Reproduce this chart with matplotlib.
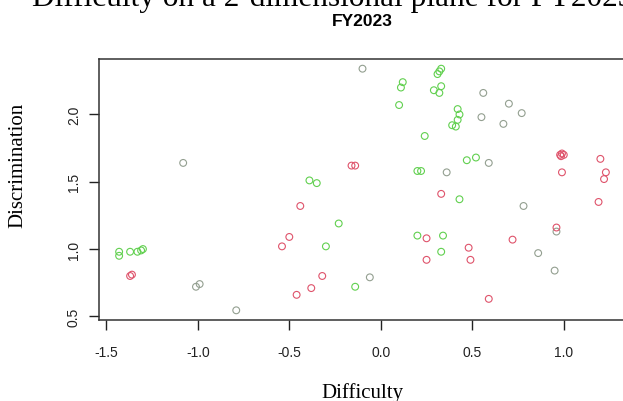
import matplotlib.pyplot as plt

# Datos (Difficulty, Discrimination) por grupo de color
red_x = [-0.16, -0.14, 0.33, -0.44, -0.50, -0.54, -0.32, -0.38, -0.46, -1.37, -1.36,
         0.25, 0.25, 0.48, 0.49, 1.19, 0.96, 0.72, 0.59, 0.98, 0.99, 0.985, 1.00,
         0.99, 1.20, 1.23, 1.22]
red_y = [1.62, 1.62, 1.41, 1.32, 1.09, 1.02, 0.80, 0.71, 0.66, 0.80, 0.81,
         1.08, 0.92, 1.01, 0.92, 1.35, 1.16, 1.07, 0.63, 1.70, 1.71, 1.69, 1.70,
         1.57, 1.67, 1.57, 1.52]

green_x = [0.12, 0.11, 0.10, 0.33, 0.32, 0.31, 0.29, 0.32, 0.33, 0.24, 0.20, 0.22,
           -0.39, -0.35, 0.42, 0.43, 0.42, 0.39, 0.41, 0.47, 0.52, -1.43, -1.43,
           -1.37, -1.33, -1.31, -1.30, -0.23, -0.30, -0.14, 0.20, 0.34, 0.33, 0.43]
green_y = [2.24, 2.20, 2.07, 2.34, 2.32, 2.30, 2.18, 2.16, 2.21, 1.84, 1.58, 1.58,
           1.51, 1.49, 2.04, 2.00, 1.96, 1.92, 1.91, 1.66, 1.68, 0.98, 0.95,
           0.98, 0.98, 0.99, 1.00, 1.19, 1.02, 0.72, 1.10, 1.10, 0.98, 1.37]

gray_x = [-0.10, 0.36, 0.56, 0.70, 0.77, 0.55, 0.67, 0.59, -1.01, -0.99, -0.79,
          -0.06, 0.78, 0.96, 0.86, 0.95, -1.08]
gray_y = [2.34, 1.57, 2.16, 2.08, 2.01, 1.98, 1.93, 1.64, 0.72, 0.74, 0.545,
          0.79, 1.32, 1.13, 0.97, 0.84, 1.64]

x_ticks = [-1.5, -1.0, -0.5, 0.0, 0.5, 1.0]
y_ticks = [0.5, 1.0, 1.5, 2.0]

plt.rcParams['font.family'] = 'Liberation Sans'

fig = plt.figure(figsize=(6.23, 4.02), dpi=100)
# El recuadro se sale un poco por la derecha, como en la captura original
ax = fig.add_axes([99 / 623, 81 / 402, 527 / 623, 261 / 402])

ax.scatter(gray_x, gray_y, s=24, facecolors='none', edgecolors='#939f90', linewidths=0.8)
ax.scatter(green_x, green_y, s=24, facecolors='none', edgecolors='#61D04F', linewidths=0.8)
ax.scatter(red_x, red_y, s=24, facecolors='none', edgecolors='#DF536B', linewidths=0.8)

ax.set_xlim(-1.54, 1.34)
ax.set_ylim(0.473, 2.412)
ax.set_xticks(x_ticks)
ax.set_yticks(y_ticks)
ax.set_xticklabels([f'{v:.1f}' for v in x_ticks])
ax.set_yticklabels([f'{v:.1f}' for v in y_ticks], rotation=90, va='center')
ax.tick_params(axis='x', length=7, width=1, pad=11, labelsize=10, colors='#222222')
ax.tick_params(axis='y', length=7, width=1, pad=6, labelsize=10, colors='#222222')
for lado in ax.spines.values():
    lado.set_linewidth(1.1)
    lado.set_color('#333333')

# Títulos y etiquetas
fig.text(362 / 623, 1 - 21 / 402, 'FY2023', ha='center', va='center',
         fontsize=12.5, fontweight='bold')
fig.text(362 / 623, 1 - 393 / 402, 'Difficulty', ha='center', va='center',
         family='Liberation Serif', fontsize=15)
fig.text(18 / 623, 1 - 165 / 402, 'Discrimination', ha='center', va='center',
         rotation=90, family='Liberation Serif', fontsize=15)
# Pie de figura del documento, cortado arriba
fig.text(32 / 623, 1 - 6 / 402, 'Difficulty on a 2-dimensional plane for FY2023',
         ha='left', va='baseline', family='Liberation Serif', fontsize=22.5)

fig.savefig('out.png', dpi=100)
